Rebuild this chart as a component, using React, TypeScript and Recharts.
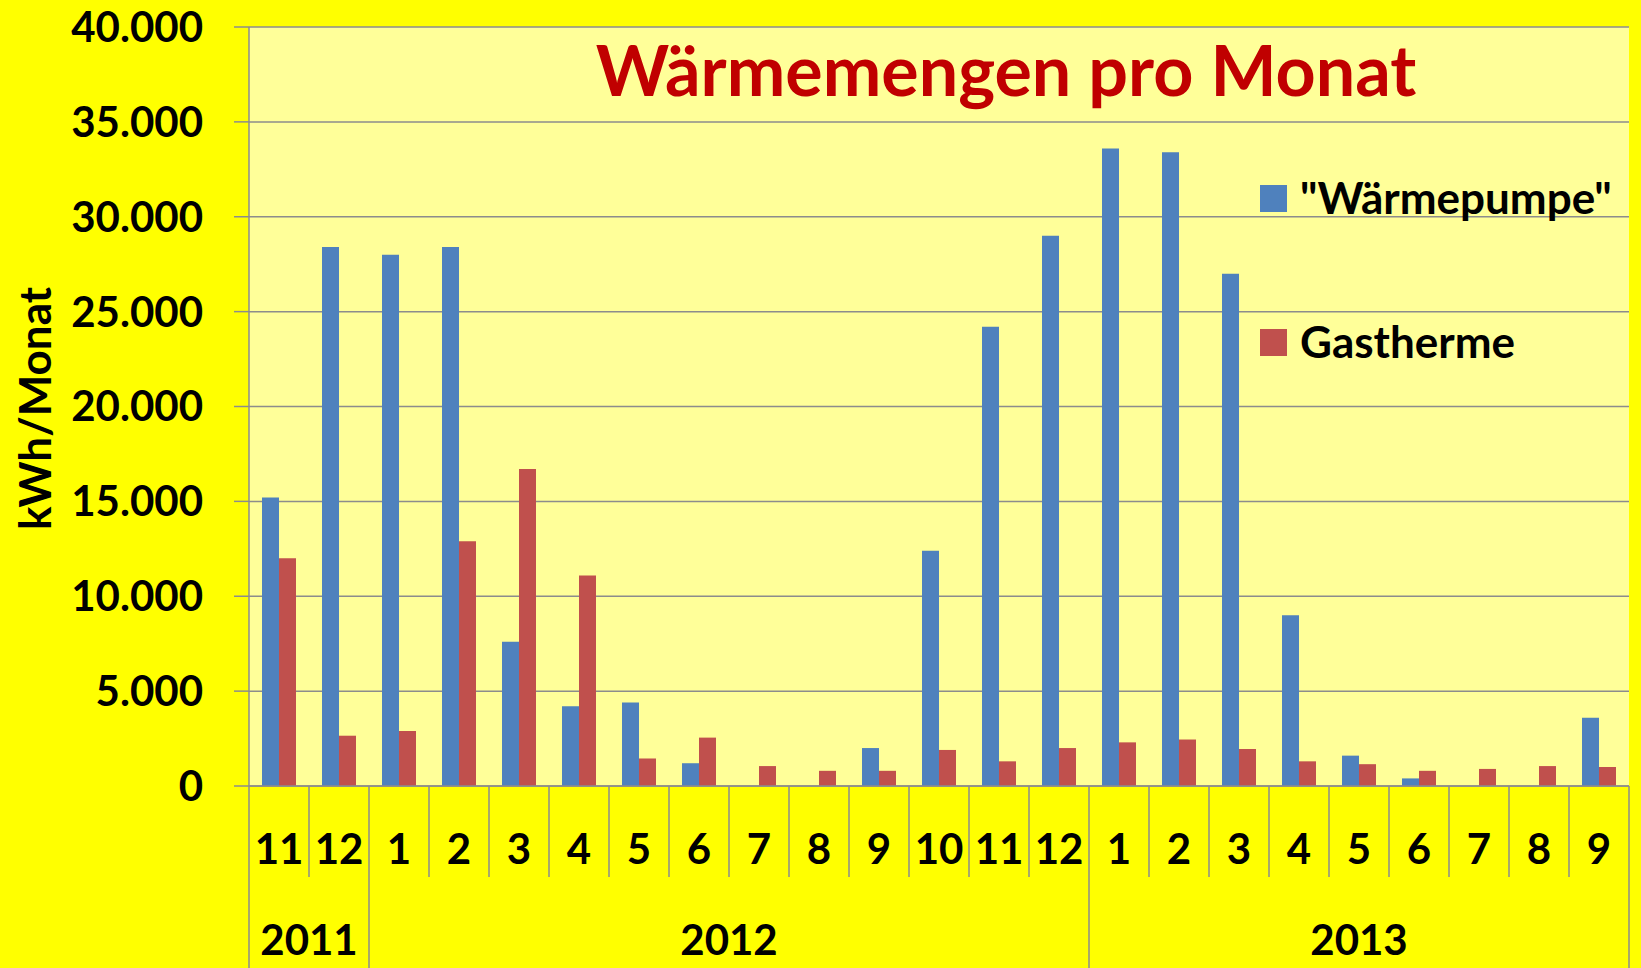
import { BarChart, Bar, XAxis, YAxis, CartesianGrid, Legend } from "recharts";

const months = ["11", "12", "1", "2", "3", "4", "5", "6", "7", "8", "9", "10", "11", "12", "1", "2", "3", "4", "5", "6", "7", "8", "9"];
const years = ["2011", "2011", "2012", "2012", "2012", "2012", "2012", "2012", "2012", "2012", "2012", "2012", "2012", "2012", "2013", "2013", "2013", "2013", "2013", "2013", "2013", "2013", "2013"];
const waermepumpe = [15200, 28400, 28000, 28400, 7600, 4200, 4400, 1200, 0, 0, 2000, 12400, 24200, 29000, 33600, 33400, 27000, 9000, 1600, 400, 0, 0, 3600];
const gastherme = [12000, 2650, 2900, 12900, 16700, 11100, 1450, 2550, 1050, 800, 800, 1900, 1300, 2000, 2300, 2450, 1950, 1300, 1150, 800, 900, 1050, 1000];
const yTicks = [0, 5000, 10000, 15000, 20000, 25000, 30000, 35000, 40000];

const data = months.map((m, i) => ({
  key: i,
  month: m,
  year: years[i],
  wp: waermepumpe[i],
  gas: gastherme[i],
}));

const W = 1641;
const H = 968;
const MARGIN = { top: 27, right: 12, left: 0, bottom: 0 };
const YAXIS_W = 249;
const XAXIS_H = 182;
const BAND = (W - MARGIN.left - MARGIN.right - YAXIS_W) / months.length;
const AXIS = "#8c8c8c";
const FONT = "Lato, 'Open Sans', sans-serif";

const fmt = (v: number) => String(v).replace(/\B(?=(\d{3})+(?!\d))/g, ".");

function MonthTick(props: any) {
  const { x, y, payload } = props;
  const i = props.index ?? payload.index;
  const half = BAND / 2;
  const yearStart = i === 0 || years[i] !== years[i - 1];
  let yearLabel = null;
  if (yearStart) {
    let j = i;
    while (j + 1 < years.length && years[j + 1] === years[i]) j++;
    yearLabel = (
      <text
        x={x + ((j - i) * BAND) / 2}
        y={y + 153}
        textAnchor="middle"
        dominantBaseline="central"
        fontFamily={FONT}
        fontWeight={700}
        fontSize={42}
        fill="#000"
      >
        {years[i]}
      </text>
    );
  }
  return (
    <g>
      <line x1={x - half} x2={x - half} y1={y} y2={y + (yearStart ? XAXIS_H : 91)} stroke={AXIS} strokeWidth={1.5} />
      {i === months.length - 1 && (
        <line x1={x + half} x2={x + half} y1={y} y2={y + XAXIS_H} stroke={AXIS} strokeWidth={1.5} />
      )}
      <text
        x={x}
        y={y + 62}
        textAnchor="middle"
        dominantBaseline="central"
        fontFamily={FONT}
        fontWeight={700}
        fontSize={42}
        fill="#000"
      >
        {payload.value}
      </text>
      {yearLabel}
    </g>
  );
}

function LegendBox({ payload }: any) {
  return (
    <div style={{ fontFamily: FONT, fontWeight: 700, fontSize: 44, lineHeight: "50px", color: "#000" }}>
      {(payload || []).map((e: any, i: number) => (
        <div key={i} style={{ display: "flex", alignItems: "center", height: 50, marginBottom: 94, whiteSpace: "nowrap" }}>
          <span style={{ width: 27, height: 27, background: e.color, marginRight: 13, marginTop: 3 }} />
          <span>{e.value}</span>
        </div>
      ))}
    </div>
  );
}

export default function App() {
  return (
    <div style={{ position: "absolute", left: 0, top: 0, width: W, height: H, background: "#FFFF00", overflow: "hidden" }}>
      <BarChart width={W} height={H} data={data} margin={MARGIN} barGap={0} style={{ fontFamily: FONT }}>
        <CartesianGrid vertical={false} stroke={AXIS} strokeWidth={1.5} fill="#FFFF99" fillOpacity={1} />
        <XAxis
          dataKey="month"
          interval={0}
          height={XAXIS_H}
          tickSize={0}
          tickMargin={0}
          tickLine={false}
          axisLine={{ stroke: AXIS, strokeWidth: 1.5 }}
          tick={<MonthTick />}
        />
        <YAxis
          width={YAXIS_W}
          domain={[0, 40000]}
          ticks={yTicks}
          interval={0}
          tickSize={15}
          tickMargin={31}
          tickFormatter={fmt}
          tickLine={{ stroke: AXIS, strokeWidth: 1.5 }}
          axisLine={{ stroke: AXIS, strokeWidth: 1.5 }}
          tick={{ fill: "#000", fontSize: 42, fontWeight: 700, fontFamily: FONT }}
          label={{
            position: "insideLeft",
            content: ({ viewBox }: any) => (
              <text
                x={viewBox.x + 34}
                y={viewBox.y + viewBox.height / 2 + 2}
                transform={`rotate(-90 ${viewBox.x + 34} ${viewBox.y + viewBox.height / 2 + 2})`}
                textAnchor="middle"
                dominantBaseline="central"
                fontFamily={FONT}
                fontWeight={700}
                fontSize={44}
                fill="#000"
              >
                kWh/Monat
              </text>
            ),
          }}
        />
        <Legend
          layout="vertical"
          align="center"
          verticalAlign="middle"
          wrapperStyle={{ left: 1260, top: 172, width: 380 }}
          content={<LegendBox />}
        />
        <Bar dataKey="wp" name={'"Wärmepumpe"'} fill="#4F81BD" barSize={17} isAnimationActive={false} />
        <Bar dataKey="gas" name="Gastherme" fill="#C0504D" barSize={17} isAnimationActive={false} />
      </BarChart>
      <div
        style={{
          position: "absolute",
          left: 506,
          width: 1000,
          top: 34,
          textAlign: "center",
          fontFamily: FONT,
          fontWeight: 700,
          fontSize: 70,
          lineHeight: 1,
          color: "#C00000",
          whiteSpace: "nowrap",
        }}
      >
        Wärmemengen pro Monat
      </div>
    </div>
  );
}
